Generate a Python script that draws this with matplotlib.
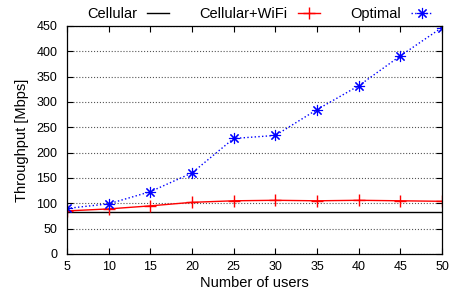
import matplotlib.pyplot as plt
import numpy as np

# data
users = [5, 10, 15, 20, 25, 30, 35, 40, 45, 50]
cellular = [82, 82, 82, 82, 82, 82, 82, 82, 82, 82]
cell_wifi = [85, 89, 95, 102, 105, 106, 105, 106, 105, 104]
optimal = [90, 99, 123, 160, 228, 234, 285, 332, 391, 447]

plt.rcParams['font.family'] = ['Liberation Sans', 'DejaVu Sans']
plt.rcParams['font.size'] = 9

fig = plt.figure(figsize=(4.5, 2.99), dpi=100)
ax = fig.add_axes([67 / 450, 1 - 254 / 299, (442 - 67) / 450, (254 - 26) / 299])

ax.plot(users, cellular, color='black', lw=1, label='Cellular')
ax.plot(users, cell_wifi, color='red', lw=1, marker='+', ms=8, mew=1, label='Cellular+WiFi')
ax.plot(users, optimal, color='blue', lw=1, ls=':', marker=(8, 2, 0), ms=8, mew=0.8,
        label='Optimal')

ax.set_xlim(5, 50)
ax.set_ylim(0, 450)
ax.set_xticks(users)
ax.set_yticks(np.arange(0, 451, 50))
ax.yaxis.grid(True, ls=':', color='#555555', lw=0.8)
ax.tick_params(direction='in', top=True, right=True, length=4, width=0.8, labelsize=9)
ax.tick_params(axis='y', pad=7)
ax.tick_params(axis='x', pad=5)
for s in ax.spines.values():
    s.set_linewidth(0.9)

ax.set_xlabel('Number of users', fontsize=10.5, labelpad=2)
ax.set_ylabel('Throughput [Mbps]', fontsize=10.5, labelpad=5)

ax.legend(loc='lower center', bbox_to_anchor=(0.515, 0.99), ncol=3, frameon=False,
          markerfirst=False, handlelength=1.5, columnspacing=2.1, handletextpad=0.7,
          borderaxespad=0.1, fontsize=10.5)

fig.savefig('out.png', dpi=100)
